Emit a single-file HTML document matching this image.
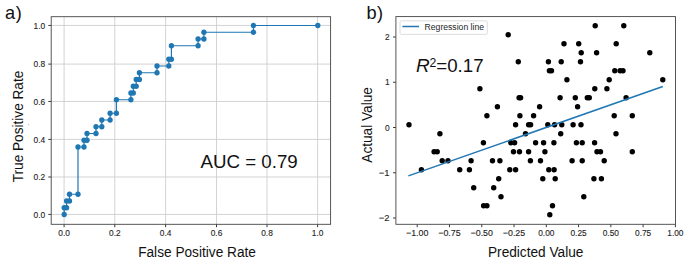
<!DOCTYPE html>
<html><head><meta charset="utf-8"><title>ROC and regression</title><style>
html,body{margin:0;padding:0;background:#fff;width:685px;height:262px;overflow:hidden;}
svg{display:block;}
text{font-family:"Liberation Sans",sans-serif;}
.tk{font-size:9.0px;fill:#1e1e1e;stroke:#1e1e1e;stroke-width:0.12px;}
</style></head><body>
<svg width="685" height="262" viewBox="0 0 685 262">

<line x1="64.10" y1="16.7" x2="64.10" y2="224.3" stroke="#cecece" stroke-width="0.9"/>
<line x1="51.2" y1="214.45" x2="330.6" y2="214.45" stroke="#cecece" stroke-width="0.9"/>
<line x1="114.80" y1="16.7" x2="114.80" y2="224.3" stroke="#cecece" stroke-width="0.9"/>
<line x1="51.2" y1="177.00" x2="330.6" y2="177.00" stroke="#cecece" stroke-width="0.9"/>
<line x1="165.60" y1="16.7" x2="165.60" y2="224.3" stroke="#cecece" stroke-width="0.9"/>
<line x1="51.2" y1="139.40" x2="330.6" y2="139.40" stroke="#cecece" stroke-width="0.9"/>
<line x1="216.50" y1="16.7" x2="216.50" y2="224.3" stroke="#cecece" stroke-width="0.9"/>
<line x1="51.2" y1="101.45" x2="330.6" y2="101.45" stroke="#cecece" stroke-width="0.9"/>
<line x1="267.00" y1="16.7" x2="267.00" y2="224.3" stroke="#cecece" stroke-width="0.9"/>
<line x1="51.2" y1="64.10" x2="330.6" y2="64.10" stroke="#cecece" stroke-width="0.9"/>
<line x1="317.60" y1="16.7" x2="317.60" y2="224.3" stroke="#cecece" stroke-width="0.9"/>
<line x1="51.2" y1="25.45" x2="330.6" y2="25.45" stroke="#cecece" stroke-width="0.9"/>
<line x1="64.10" y1="224.3" x2="64.10" y2="227.20000000000002" stroke="#3a3a3a" stroke-width="1.0"/>
<text class="tk" x="58.30" y="236.00" textLength="11.61" lengthAdjust="spacingAndGlyphs">0.0</text>
<line x1="48.300000000000004" y1="214.45" x2="51.2" y2="214.45" stroke="#3a3a3a" stroke-width="1.0"/>
<text class="tk" x="33.49" y="217.60" textLength="11.61" lengthAdjust="spacingAndGlyphs">0.0</text>
<line x1="114.80" y1="224.3" x2="114.80" y2="227.20000000000002" stroke="#3a3a3a" stroke-width="1.0"/>
<text class="tk" x="109.00" y="236.00" textLength="11.61" lengthAdjust="spacingAndGlyphs">0.2</text>
<line x1="48.300000000000004" y1="177.00" x2="51.2" y2="177.00" stroke="#3a3a3a" stroke-width="1.0"/>
<text class="tk" x="33.49" y="180.15" textLength="11.61" lengthAdjust="spacingAndGlyphs">0.2</text>
<line x1="165.60" y1="224.3" x2="165.60" y2="227.20000000000002" stroke="#3a3a3a" stroke-width="1.0"/>
<text class="tk" x="159.80" y="236.00" textLength="11.61" lengthAdjust="spacingAndGlyphs">0.4</text>
<line x1="48.300000000000004" y1="139.40" x2="51.2" y2="139.40" stroke="#3a3a3a" stroke-width="1.0"/>
<text class="tk" x="33.49" y="142.55" textLength="11.61" lengthAdjust="spacingAndGlyphs">0.4</text>
<line x1="216.50" y1="224.3" x2="216.50" y2="227.20000000000002" stroke="#3a3a3a" stroke-width="1.0"/>
<text class="tk" x="210.70" y="236.00" textLength="11.61" lengthAdjust="spacingAndGlyphs">0.6</text>
<line x1="48.300000000000004" y1="101.45" x2="51.2" y2="101.45" stroke="#3a3a3a" stroke-width="1.0"/>
<text class="tk" x="33.49" y="104.60" textLength="11.61" lengthAdjust="spacingAndGlyphs">0.6</text>
<line x1="267.00" y1="224.3" x2="267.00" y2="227.20000000000002" stroke="#3a3a3a" stroke-width="1.0"/>
<text class="tk" x="261.20" y="236.00" textLength="11.61" lengthAdjust="spacingAndGlyphs">0.8</text>
<line x1="48.300000000000004" y1="64.10" x2="51.2" y2="64.10" stroke="#3a3a3a" stroke-width="1.0"/>
<text class="tk" x="33.49" y="67.25" textLength="11.61" lengthAdjust="spacingAndGlyphs">0.8</text>
<line x1="317.60" y1="224.3" x2="317.60" y2="227.20000000000002" stroke="#3a3a3a" stroke-width="1.0"/>
<text class="tk" x="311.80" y="236.00" textLength="11.61" lengthAdjust="spacingAndGlyphs">1.0</text>
<line x1="48.300000000000004" y1="25.45" x2="51.2" y2="25.45" stroke="#3a3a3a" stroke-width="1.0"/>
<text class="tk" x="33.49" y="28.60" textLength="11.61" lengthAdjust="spacingAndGlyphs">1.0</text>
<rect x="51.2" y="16.7" width="279.40" height="207.60" fill="none" stroke="#444" stroke-width="0.9"/>
<polyline fill="none" stroke="#1f77b4" stroke-width="1.2" stroke-linejoin="round" points="64.2,214.50 64.2,207.75 66.6,207.75 66.6,201.00 69.5,201.00 69.5,194.25 78.0,194.25 78.0,147.00 84.0,147.00 84.0,140.25 87.0,140.25 87.0,133.50 96.0,133.50 96.0,126.75 101.8,126.75 101.8,120.00 110.1,120.00 110.1,113.25 116.4,113.25 116.4,99.75 130.9,99.75 130.9,93.00 133.3,93.00 133.3,86.25 136.2,86.25 136.2,79.50 139.4,79.50 139.4,72.75 157.0,72.75 157.0,66.00 168.8,66.00 168.8,59.25 171.4,59.25 171.4,45.75 198.1,45.75 198.1,39.00 203.9,39.00 203.9,32.25 253.5,32.25 253.5,25.50 317.8,25.50"/>
<circle cx="64.2" cy="214.50" r="2.65" fill="#1f77b4"/>
<circle cx="64.2" cy="207.75" r="2.65" fill="#1f77b4"/>
<circle cx="66.6" cy="207.75" r="2.65" fill="#1f77b4"/>
<circle cx="66.6" cy="201.00" r="2.65" fill="#1f77b4"/>
<circle cx="69.5" cy="201.00" r="2.65" fill="#1f77b4"/>
<circle cx="69.5" cy="194.25" r="2.65" fill="#1f77b4"/>
<circle cx="78.0" cy="194.25" r="2.65" fill="#1f77b4"/>
<circle cx="78.0" cy="147.00" r="2.65" fill="#1f77b4"/>
<circle cx="84.0" cy="147.00" r="2.65" fill="#1f77b4"/>
<circle cx="84.0" cy="140.25" r="2.65" fill="#1f77b4"/>
<circle cx="87.0" cy="140.25" r="2.65" fill="#1f77b4"/>
<circle cx="87.0" cy="133.50" r="2.65" fill="#1f77b4"/>
<circle cx="96.0" cy="133.50" r="2.65" fill="#1f77b4"/>
<circle cx="96.0" cy="126.75" r="2.65" fill="#1f77b4"/>
<circle cx="101.8" cy="126.75" r="2.65" fill="#1f77b4"/>
<circle cx="101.8" cy="120.00" r="2.65" fill="#1f77b4"/>
<circle cx="110.1" cy="120.00" r="2.65" fill="#1f77b4"/>
<circle cx="110.1" cy="113.25" r="2.65" fill="#1f77b4"/>
<circle cx="116.4" cy="113.25" r="2.65" fill="#1f77b4"/>
<circle cx="116.4" cy="99.75" r="2.65" fill="#1f77b4"/>
<circle cx="130.9" cy="99.75" r="2.65" fill="#1f77b4"/>
<circle cx="130.9" cy="93.00" r="2.65" fill="#1f77b4"/>
<circle cx="133.3" cy="93.00" r="2.65" fill="#1f77b4"/>
<circle cx="133.3" cy="86.25" r="2.65" fill="#1f77b4"/>
<circle cx="136.2" cy="86.25" r="2.65" fill="#1f77b4"/>
<circle cx="136.2" cy="79.50" r="2.65" fill="#1f77b4"/>
<circle cx="139.4" cy="79.50" r="2.65" fill="#1f77b4"/>
<circle cx="139.4" cy="72.75" r="2.65" fill="#1f77b4"/>
<circle cx="157.0" cy="72.75" r="2.65" fill="#1f77b4"/>
<circle cx="157.0" cy="66.00" r="2.65" fill="#1f77b4"/>
<circle cx="168.8" cy="66.00" r="2.65" fill="#1f77b4"/>
<circle cx="168.8" cy="59.25" r="2.65" fill="#1f77b4"/>
<circle cx="171.4" cy="59.25" r="2.65" fill="#1f77b4"/>
<circle cx="171.4" cy="45.75" r="2.65" fill="#1f77b4"/>
<circle cx="198.1" cy="45.75" r="2.65" fill="#1f77b4"/>
<circle cx="198.1" cy="39.00" r="2.65" fill="#1f77b4"/>
<circle cx="203.9" cy="39.00" r="2.65" fill="#1f77b4"/>
<circle cx="203.9" cy="32.25" r="2.65" fill="#1f77b4"/>
<circle cx="253.5" cy="32.25" r="2.65" fill="#1f77b4"/>
<circle cx="253.5" cy="25.50" r="2.65" fill="#1f77b4"/>
<circle cx="317.8" cy="25.50" r="2.65" fill="#1f77b4"/>
<text x="200.46" y="167.90" style="font-size:19.19px" fill="#111" textLength="97.32" lengthAdjust="spacingAndGlyphs">AUC = 0.79</text>
<text x="138.18" y="256.80" style="font-size:14.21px" fill="#111" textLength="117.72" lengthAdjust="spacingAndGlyphs">False Positive Rate</text>
<text transform="translate(23.00,182.30) rotate(-90)" x="0" y="0" style="font-size:14.17px" fill="#111" textLength="111.61" lengthAdjust="spacingAndGlyphs">True Positive Rate</text>
<text x="4.9" y="18.7" style="font-size:18.2px;letter-spacing:0.7px" fill="#111">a)</text>
<text x="366.6" y="18.7" style="font-size:18.2px;letter-spacing:0.3px" fill="#111">b)</text>
<line x1="417.20" y1="224.3" x2="417.20" y2="227.20000000000002" stroke="#3a3a3a" stroke-width="1.0"/>
<text class="tk" x="406.02" y="236.00" textLength="22.37" lengthAdjust="spacingAndGlyphs">−1.00</text>
<line x1="449.47" y1="224.3" x2="449.47" y2="227.20000000000002" stroke="#3a3a3a" stroke-width="1.0"/>
<text class="tk" x="438.29" y="236.00" textLength="22.37" lengthAdjust="spacingAndGlyphs">−0.75</text>
<line x1="481.75" y1="224.3" x2="481.75" y2="227.20000000000002" stroke="#3a3a3a" stroke-width="1.0"/>
<text class="tk" x="470.57" y="236.00" textLength="22.37" lengthAdjust="spacingAndGlyphs">−0.50</text>
<line x1="514.02" y1="224.3" x2="514.02" y2="227.20000000000002" stroke="#3a3a3a" stroke-width="1.0"/>
<text class="tk" x="502.84" y="236.00" textLength="22.37" lengthAdjust="spacingAndGlyphs">−0.25</text>
<line x1="546.30" y1="224.3" x2="546.30" y2="227.20000000000002" stroke="#3a3a3a" stroke-width="1.0"/>
<text class="tk" x="538.18" y="236.00" textLength="16.25" lengthAdjust="spacingAndGlyphs">0.00</text>
<line x1="578.57" y1="224.3" x2="578.57" y2="227.20000000000002" stroke="#3a3a3a" stroke-width="1.0"/>
<text class="tk" x="570.45" y="236.00" textLength="16.25" lengthAdjust="spacingAndGlyphs">0.25</text>
<line x1="610.85" y1="224.3" x2="610.85" y2="227.20000000000002" stroke="#3a3a3a" stroke-width="1.0"/>
<text class="tk" x="602.73" y="236.00" textLength="16.25" lengthAdjust="spacingAndGlyphs">0.50</text>
<line x1="643.12" y1="224.3" x2="643.12" y2="227.20000000000002" stroke="#3a3a3a" stroke-width="1.0"/>
<text class="tk" x="635.00" y="236.00" textLength="16.25" lengthAdjust="spacingAndGlyphs">0.75</text>
<line x1="675.40" y1="224.3" x2="675.40" y2="227.20000000000002" stroke="#3a3a3a" stroke-width="1.0"/>
<text class="tk" x="667.28" y="236.00" textLength="16.25" lengthAdjust="spacingAndGlyphs">1.00</text>
<line x1="393.0" y1="218.00" x2="395.9" y2="218.00" stroke="#3a3a3a" stroke-width="1.0"/>
<text class="tk" x="378.84" y="221.15" textLength="10.76" lengthAdjust="spacingAndGlyphs">−2</text>
<line x1="393.0" y1="172.75" x2="395.9" y2="172.75" stroke="#3a3a3a" stroke-width="1.0"/>
<text class="tk" x="378.84" y="175.90" textLength="10.76" lengthAdjust="spacingAndGlyphs">−1</text>
<line x1="393.0" y1="127.50" x2="395.9" y2="127.50" stroke="#3a3a3a" stroke-width="1.0"/>
<text class="tk" x="384.96" y="130.65" textLength="4.64" lengthAdjust="spacingAndGlyphs">0</text>
<line x1="393.0" y1="82.25" x2="395.9" y2="82.25" stroke="#3a3a3a" stroke-width="1.0"/>
<text class="tk" x="384.96" y="85.40" textLength="4.64" lengthAdjust="spacingAndGlyphs">1</text>
<line x1="393.0" y1="37.00" x2="395.9" y2="37.00" stroke="#3a3a3a" stroke-width="1.0"/>
<text class="tk" x="384.96" y="40.15" textLength="4.64" lengthAdjust="spacingAndGlyphs">2</text>
<rect x="395.9" y="16.6" width="279.60" height="207.70" fill="none" stroke="#444" stroke-width="0.9"/>
<circle cx="595.2" cy="25.80" r="2.7" fill="#000"/>
<circle cx="623.8" cy="25.80" r="2.7" fill="#000"/>
<circle cx="508.2" cy="34.80" r="2.7" fill="#000"/>
<circle cx="564.0" cy="43.79" r="2.7" fill="#000"/>
<circle cx="578.7" cy="43.79" r="2.7" fill="#000"/>
<circle cx="616.2" cy="43.79" r="2.7" fill="#000"/>
<circle cx="581.2" cy="52.78" r="2.7" fill="#000"/>
<circle cx="596.6" cy="52.78" r="2.7" fill="#000"/>
<circle cx="649.8" cy="52.78" r="2.7" fill="#000"/>
<circle cx="518.3" cy="61.78" r="2.7" fill="#000"/>
<circle cx="548.4" cy="61.78" r="2.7" fill="#000"/>
<circle cx="561.2" cy="61.78" r="2.7" fill="#000"/>
<circle cx="580.5" cy="61.78" r="2.7" fill="#000"/>
<circle cx="549.4" cy="70.77" r="2.7" fill="#000"/>
<circle cx="551.5" cy="70.77" r="2.7" fill="#000"/>
<circle cx="614.8" cy="70.77" r="2.7" fill="#000"/>
<circle cx="620.1" cy="70.77" r="2.7" fill="#000"/>
<circle cx="623.0" cy="70.77" r="2.7" fill="#000"/>
<circle cx="566.9" cy="79.77" r="2.7" fill="#000"/>
<circle cx="609.2" cy="79.77" r="2.7" fill="#000"/>
<circle cx="662.8" cy="79.77" r="2.7" fill="#000"/>
<circle cx="479.9" cy="88.77" r="2.7" fill="#000"/>
<circle cx="594.8" cy="88.77" r="2.7" fill="#000"/>
<circle cx="606.9" cy="88.77" r="2.7" fill="#000"/>
<circle cx="519.1" cy="97.76" r="2.7" fill="#000"/>
<circle cx="520.6" cy="97.76" r="2.7" fill="#000"/>
<circle cx="560.1" cy="97.76" r="2.7" fill="#000"/>
<circle cx="575.3" cy="97.76" r="2.7" fill="#000"/>
<circle cx="587.3" cy="97.76" r="2.7" fill="#000"/>
<circle cx="589.3" cy="97.76" r="2.7" fill="#000"/>
<circle cx="626.1" cy="97.76" r="2.7" fill="#000"/>
<circle cx="497.4" cy="106.75" r="2.7" fill="#000"/>
<circle cx="539.6" cy="106.75" r="2.7" fill="#000"/>
<circle cx="577.6" cy="106.75" r="2.7" fill="#000"/>
<circle cx="486.9" cy="115.75" r="2.7" fill="#000"/>
<circle cx="519.9" cy="115.75" r="2.7" fill="#000"/>
<circle cx="533.6" cy="115.75" r="2.7" fill="#000"/>
<circle cx="614.2" cy="115.75" r="2.7" fill="#000"/>
<circle cx="632.3" cy="115.75" r="2.7" fill="#000"/>
<circle cx="409.0" cy="124.74" r="2.7" fill="#000"/>
<circle cx="515.6" cy="124.74" r="2.7" fill="#000"/>
<circle cx="528.6" cy="124.74" r="2.7" fill="#000"/>
<circle cx="530.6" cy="124.74" r="2.7" fill="#000"/>
<circle cx="547.8" cy="124.74" r="2.7" fill="#000"/>
<circle cx="554.6" cy="124.74" r="2.7" fill="#000"/>
<circle cx="561.8" cy="124.74" r="2.7" fill="#000"/>
<circle cx="573.1" cy="124.74" r="2.7" fill="#000"/>
<circle cx="581.0" cy="124.74" r="2.7" fill="#000"/>
<circle cx="439.9" cy="133.74" r="2.7" fill="#000"/>
<circle cx="525.5" cy="133.74" r="2.7" fill="#000"/>
<circle cx="560.7" cy="133.74" r="2.7" fill="#000"/>
<circle cx="616.0" cy="133.74" r="2.7" fill="#000"/>
<circle cx="483.4" cy="142.73" r="2.7" fill="#000"/>
<circle cx="510.8" cy="142.73" r="2.7" fill="#000"/>
<circle cx="514.6" cy="142.73" r="2.7" fill="#000"/>
<circle cx="535.6" cy="142.73" r="2.7" fill="#000"/>
<circle cx="543.6" cy="142.73" r="2.7" fill="#000"/>
<circle cx="553.9" cy="142.73" r="2.7" fill="#000"/>
<circle cx="576.4" cy="142.73" r="2.7" fill="#000"/>
<circle cx="582.2" cy="142.73" r="2.7" fill="#000"/>
<circle cx="594.6" cy="142.73" r="2.7" fill="#000"/>
<circle cx="434.1" cy="151.73" r="2.7" fill="#000"/>
<circle cx="437.2" cy="151.73" r="2.7" fill="#000"/>
<circle cx="513.5" cy="151.73" r="2.7" fill="#000"/>
<circle cx="519.5" cy="151.73" r="2.7" fill="#000"/>
<circle cx="528.6" cy="151.73" r="2.7" fill="#000"/>
<circle cx="544.9" cy="151.73" r="2.7" fill="#000"/>
<circle cx="597.0" cy="151.73" r="2.7" fill="#000"/>
<circle cx="600.5" cy="151.73" r="2.7" fill="#000"/>
<circle cx="632.3" cy="151.73" r="2.7" fill="#000"/>
<circle cx="442.2" cy="160.72" r="2.7" fill="#000"/>
<circle cx="448.0" cy="160.72" r="2.7" fill="#000"/>
<circle cx="471.1" cy="160.72" r="2.7" fill="#000"/>
<circle cx="492.5" cy="160.72" r="2.7" fill="#000"/>
<circle cx="499.9" cy="160.72" r="2.7" fill="#000"/>
<circle cx="530.4" cy="160.72" r="2.7" fill="#000"/>
<circle cx="540.5" cy="160.72" r="2.7" fill="#000"/>
<circle cx="572.1" cy="160.72" r="2.7" fill="#000"/>
<circle cx="582.2" cy="160.72" r="2.7" fill="#000"/>
<circle cx="604.2" cy="160.72" r="2.7" fill="#000"/>
<circle cx="421.4" cy="169.72" r="2.7" fill="#000"/>
<circle cx="459.7" cy="169.72" r="2.7" fill="#000"/>
<circle cx="469.4" cy="169.72" r="2.7" fill="#000"/>
<circle cx="509.8" cy="169.72" r="2.7" fill="#000"/>
<circle cx="515.6" cy="169.72" r="2.7" fill="#000"/>
<circle cx="548.8" cy="169.72" r="2.7" fill="#000"/>
<circle cx="554.1" cy="169.72" r="2.7" fill="#000"/>
<circle cx="498.7" cy="178.72" r="2.7" fill="#000"/>
<circle cx="542.8" cy="178.72" r="2.7" fill="#000"/>
<circle cx="555.2" cy="178.72" r="2.7" fill="#000"/>
<circle cx="593.9" cy="178.72" r="2.7" fill="#000"/>
<circle cx="601.4" cy="178.72" r="2.7" fill="#000"/>
<circle cx="473.7" cy="187.71" r="2.7" fill="#000"/>
<circle cx="493.7" cy="187.71" r="2.7" fill="#000"/>
<circle cx="501.0" cy="196.70" r="2.7" fill="#000"/>
<circle cx="583.8" cy="196.70" r="2.7" fill="#000"/>
<circle cx="483.6" cy="205.70" r="2.7" fill="#000"/>
<circle cx="486.9" cy="205.70" r="2.7" fill="#000"/>
<circle cx="552.5" cy="205.70" r="2.7" fill="#000"/>
<circle cx="549.8" cy="214.69" r="2.7" fill="#000"/>
<line x1="408.4" y1="175.9" x2="662.8" y2="86.5" stroke="#1f77b4" stroke-width="1.5"/>
<rect x="400.0" y="20.8" width="87.3" height="13.6" rx="1.6" fill="#fff" fill-opacity="0.8" stroke="#d4d4d4" stroke-width="0.8"/>
<line x1="402.4" y1="26.5" x2="419.0" y2="26.5" stroke="#1f77b4" stroke-width="1.5"/>
<text x="424.6" y="29.8" style="font-size:8.3px" fill="#1e1e1e" textLength="59.4" lengthAdjust="spacingAndGlyphs">Regression line</text>
<text x="416.0" y="71.9" style="font-size:17.8px;font-style:italic" fill="#111" textLength="13.7" lengthAdjust="spacingAndGlyphs">R</text>
<text x="429.4" y="66.9" style="font-size:12.2px" fill="#111">2</text>
<text x="436.30" y="72.10" style="font-size:19.08px" fill="#111" textLength="47.34" lengthAdjust="spacingAndGlyphs">=0.17</text>
<text x="487.98" y="256.80" style="font-size:14.21px" fill="#111" textLength="95.42" lengthAdjust="spacingAndGlyphs">Predicted Value</text>
<text transform="translate(371.60,162.73) rotate(-90)" x="0" y="0" style="font-size:14.20px" fill="#111" textLength="75.64" lengthAdjust="spacingAndGlyphs">Actual Value</text>
<rect x="28.3" y="124.2" width="0.9" height="0.9" fill="#999"/>
</svg>
</body></html>
